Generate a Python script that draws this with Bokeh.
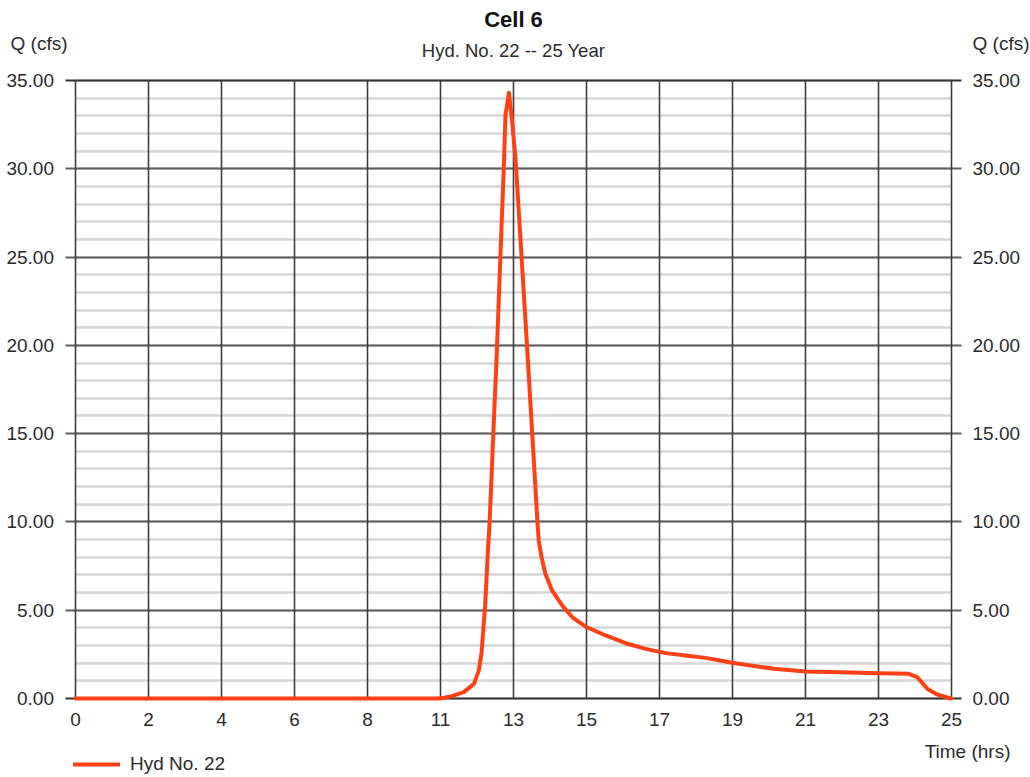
from bokeh.plotting import figure
from bokeh.models import Range1d, FixedTicker, Legend, LegendItem, Grid
from bokeh.core.properties import value
from bokeh.embed import file_html
from bokeh.resources import INLINE

# ---- data ----
title = "Cell 6"
subtitle = "Hyd. No. 22 -- 25 Year"
series_name = "Hyd No. 22"
y_axis_title = "Q (cfs)"
x_axis_title = "Time (hrs)"
x_tick_labels = ["0", "2", "4", "6", "8", "11", "13", "15", "17", "19", "21", "23", "25"]
y_ticks = [0, 5, 10, 15, 20, 25, 30, 35]
y_minor = list(range(0, 36))

time_hrs = [0.0, 10.42, 10.70, 11.08, 11.37, 11.51, 11.59, 11.64, 11.69, 11.73, 11.77,
            11.82, 11.86, 11.93, 12.02, 12.10, 12.17, 12.23, 12.27, 12.37, 12.46, 12.56,
            12.65, 12.90, 13.18, 13.22, 13.30, 13.41, 13.60, 13.89, 14.18, 14.55, 15.13,
            15.70, 16.27, 16.84, 17.41, 17.98, 18.74, 19.93, 20.83, 21.83, 22.93, 23.78,
            24.02, 24.31, 24.59, 24.97, 25.0]
flow_cfs = [0.0, 0.0, 0.11, 0.36, 0.83, 1.59, 2.61, 3.96, 5.27, 6.80, 8.38,
            10.08, 11.95, 15.29, 19.42, 23.67, 27.35, 30.46, 33.02, 34.3, 32.7, 30.5,
            27.6, 19.5, 10.1, 8.95, 8.0, 7.06, 6.12, 5.27, 4.6, 4.08, 3.57,
            3.13, 2.81, 2.57, 2.44, 2.3, 2.02, 1.68, 1.53, 1.49, 1.43, 1.40,
            1.21, 0.55, 0.23, 0.0, 0.0]

x_max = 25.0
y_max = 35.0
n_xdiv = len(x_tick_labels) - 1
x_ticks = [i * x_max / n_xdiv for i in range(n_xdiv + 1)]

# ---- layout (pixels) ----
W, H = 1030, 777
left, right, top, bottom = 75, 951, 80, 698
sx = (right - left) / x_max
sy = (bottom - top) / y_max
def X(px):
    return (px - left) / sx
def Y(py):
    return (bottom - py) / sy

FONT = "Liberation Sans"
TXT = "#2b2b2b"
FS = "19px"

p = figure(width=W, height=H, output_backend="svg", toolbar_location=None,
           x_range=Range1d(X(0), X(W)), y_range=Range1d(Y(H), Y(0)),
           x_axis_type=None, y_axis_type=None, min_border=0)
p.outline_line_color = None
p.background_fill_color = "white"
p.border_fill_color = "white"

# grid
minor_grid = Grid(dimension=1, ticker=FixedTicker(ticks=[], minor_ticks=y_minor),
                  grid_line_color=None, minor_grid_line_color="#d6d6d6",
                  minor_grid_line_width=2.5, cross_bounds=(0, x_max))
major_grid = Grid(dimension=1, ticker=FixedTicker(ticks=y_ticks[1:-1]),
                  grid_line_color="#5f5f5f", grid_line_width=2,
                  cross_bounds=(X(left - 10), X(right + 10)))
edge_grid = Grid(dimension=1, ticker=FixedTicker(ticks=[y_ticks[0], y_ticks[-1]]),
                 grid_line_color="#333333", grid_line_width=2,
                 cross_bounds=(X(left - 10), X(right + 10)))
xgrid = Grid(dimension=0, ticker=FixedTicker(ticks=x_ticks),
             grid_line_color="#3c3c3c", grid_line_width=1.6, cross_bounds=(0, y_max))
for g in (minor_grid, major_grid, edge_grid, xgrid):
    p.add_layout(g)

# tick labels
ylabels = [f"{v:.2f}" for v in y_ticks]
p.text(x=[X(53.5)] * len(y_ticks), y=y_ticks, text=ylabels, text_align="right",
       text_baseline="middle", text_font=value(FONT), text_font_size=FS, text_color=TXT)
p.text(x=[X(972)] * len(y_ticks), y=y_ticks, text=ylabels, text_align="left",
       text_baseline="middle", text_font=value(FONT), text_font_size=FS, text_color=TXT)
p.text(x=x_ticks, y=[Y(719)] * len(x_ticks), text=x_tick_labels, text_align="center",
       text_baseline="middle", text_font=value(FONT), text_font_size=FS, text_color=TXT)

# titles
p.text(x=[x_max / 2], y=[Y(19)], text=[title], text_align="center", text_baseline="middle",
       text_font=value(FONT), text_font_size="22px", text_font_style="bold",
       text_color="#111111")
p.text(x=[x_max / 2], y=[Y(49.5)], text=[subtitle], text_align="center",
       text_baseline="middle", text_font=value(FONT), text_font_size="18.5px",
       text_color=TXT)
p.text(x=[X(10), X(972)], y=[Y(42.5)] * 2, text=[y_axis_title] * 2, text_align="left",
       text_baseline="middle", text_font=value(FONT), text_font_size=FS, text_color=TXT)
p.text(x=[X(1010)], y=[Y(750.5)], text=[x_axis_title], text_align="right",
       text_baseline="middle", text_font=value(FONT), text_font_size=FS, text_color=TXT)

# data line
r = p.line(time_hrs, flow_cfs, line_color="#ff4015", line_width=4, line_join="round",
           line_cap="round")

legend = Legend(items=[LegendItem(label=series_name, renderers=[r])],
                location=(73, 2), orientation="horizontal",
                glyph_width=47, glyph_height=22, padding=0, margin=0, spacing=0,
                label_standoff=10, border_line_color=None, background_fill_alpha=0,
                label_text_font=FONT, label_text_font_size=FS, label_text_color=TXT,
                label_text_baseline="middle")
p.add_layout(legend)

open("out.html", "w").write(file_html(p, INLINE))
